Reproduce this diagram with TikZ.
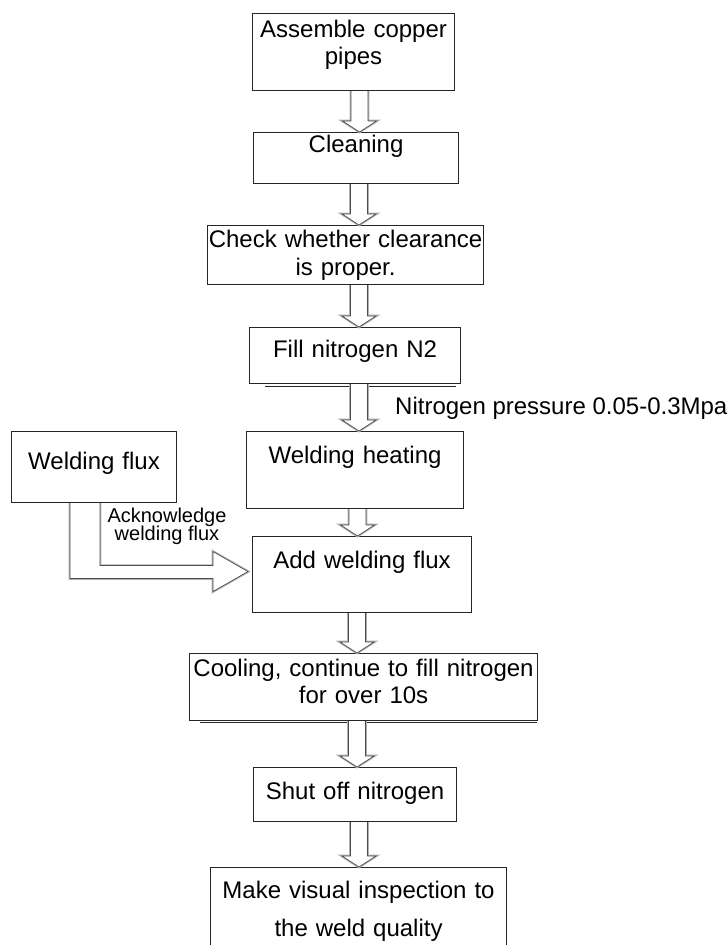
\documentclass[tikz,border=0pt]{standalone}
\usepackage{fontspec}
\setmainfont{Liberation Sans}
\usetikzlibrary{calc}

\tikzset{
  stepbox/.style={draw=black!85, line width=1.1pt, inner sep=0pt, align=center, anchor=north west, font=\fontsize{24}{27}\selectfont},
  blockarrow/.style={fill=white, draw=black!70, line width=0.7pt, preaction={draw=gray!60, line width=2.6pt}},
  note/.style={inner sep=0pt, font=\fontsize{24}{27}\selectfont}
}

% hollow block arrow: x position, from node, to node
\newcommand{\flowarrow}[3]{%
  \path[blockarrow] let \p1=(#2.south), \p2=(#3.north) in
    (#1pt-8.5pt,\y1) -- (#1pt-8.5pt,\y2+11pt) -- (#1pt-17pt,\y2+11pt) -- (#1pt,\y2)
    -- (#1pt+17pt,\y2+11pt) -- (#1pt+8.5pt,\y2+11pt) -- (#1pt+8.5pt,\y1);}

\begin{document}
\begin{tikzpicture}[x=1pt, y=-1pt]
\useasboundingbox (0,0) rectangle (728,945);

\node[stepbox, text width=202pt, text height=24pt, text depth=53pt] (assemble) at (252,13) {Assemble copper\\pipes};
\node[stepbox, text width=205pt, text height=20pt, text depth=31pt] (clean) at (253,132) {Cleaning};
\node[stepbox, text width=276pt, text height=22pt, text depth=37pt] (check) at (207,225) {Check whether clearance\\[1pt]is proper.};
\node[stepbox, text width=211pt, text height=30pt, text depth=26pt] (fill) at (249,327) {Fill nitrogen N2};
\node[stepbox, text width=217pt, text height=32pt, text depth=45pt] (heat) at (246,431) {Welding heating};
\node[stepbox, text width=165pt, text height=38pt, text depth=33pt] (flux) at (11,431) {Welding flux};
\node[stepbox, text width=219pt, text height=32pt, text depth=44pt] (addflux) at (252,536) {Add welding flux};
\node[stepbox, text width=348pt, text height=23pt, text depth=44pt] (cool) at (189,653) {Cooling, continue to fill nitrogen\\for over 10s};
\node[stepbox, text width=203pt, text height=32pt, text depth=22pt] (shutoff) at (253,767) {Shut off nitrogen};
\node[stepbox, text width=296pt, text height=31pt, text depth=62pt] (inspect) at (210,867) {Make visual inspection to\\[11pt]the weld quality};

% shadow lines under two boxes
\draw[line width=1.1pt, black!85] ([xshift=16pt,yshift=-2.5pt]fill.south west) -- ([xshift=-5pt,yshift=-2.5pt]fill.south east);
\draw[line width=1.4pt, black!85] ([xshift=11pt,yshift=-1.5pt]cool.south west) -- ([xshift=-1pt,yshift=-1.5pt]cool.south east);

\foreach \from/\to/\ax in {assemble/clean/359.5, clean/check/359, check/fill/359, fill/heat/359,
                      heat/addflux/357.5, addflux/cool/357, cool/shutoff/357, shutoff/inspect/359}
  {\flowarrow{\ax}{\from}{\to}}

% bent arrow from the flux box
\path[blockarrow] let \p1=(flux.south), \p2=(addflux.west) in
  (70pt,\y1) -- (70pt,\y2-4pt) -- (213pt,\y2-4pt) -- (213pt,\y2-17pt) -- (\x2-4pt,\y2+3pt)
  -- (213pt,\y2+23pt) -- (213pt,\y2+9pt) -- (100pt,\y2+9pt) -- (100pt,\y1);

\node[note, anchor=base west] (pressure) at (395,414) {Nitrogen pressure 0.05-0.3Mpa};
\node[note, anchor=north, align=center, font={\fontsize{20}{18.3}\selectfont\lineskiplimit=-20pt}] (ack) at (167,508) {Acknowledge\\welding flux};
\end{tikzpicture}
\end{document}
